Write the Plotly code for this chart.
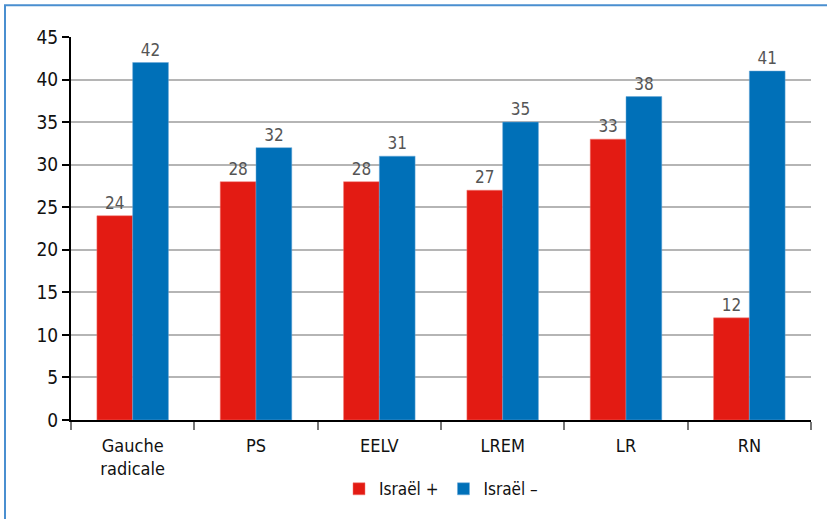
import plotly.graph_objects as go

categories = ["Gauche<br>radicale", "PS", "EELV", "LREM", "LR", "RN"]
israel_plus = [24, 28, 28, 27, 33, 12]
israel_minus = [42, 32, 31, 35, 38, 41]
series_names = ["Israël +", "Israël –"]
y_ticks = [0, 5, 10, 15, 20, 25, 30, 35, 40, 45]

FONT = "DejaVu Sans Condensed, Liberation Sans Narrow, Arial Narrow, Liberation Sans, sans-serif"

fig = go.Figure()
fig.add_trace(go.Bar(
    x=categories, y=israel_plus, name=series_names[0],
    marker=dict(color="#e31b13", line=dict(color="#f07a74", width=0.5)),
    text=israel_plus, textposition="outside", cliponaxis=False,
    textfont=dict(family=FONT, size=17, color="#555555"),
))
fig.add_trace(go.Bar(
    x=categories, y=israel_minus, name=series_names[1],
    marker=dict(color="#0070b8", line=dict(color="#6aa8d8", width=0.5)),
    text=israel_minus, textposition="outside", cliponaxis=False,
    textfont=dict(family=FONT, size=17, color="#555555"),
))

W, H = 827, 519
ml, mr, mt, mb = 71, 16, 37, 95
pw, ph = W - ml - mr, H - mt - mb

def px_x(p):
    return (p - ml) / pw

def px_y(p):
    return (H - mb - p) / ph

fig.update_layout(
    width=W, height=H,
    margin=dict(l=ml, r=mr, t=mt, b=mb),
    paper_bgcolor="white", plot_bgcolor="white",
    barmode="group", bargap=0.42, bargroupgap=0,
    font=dict(family=FONT, size=16, color="#111111"),
    showlegend=True,
    legend=dict(orientation="h", x=0.5, xanchor="center", y=px_y(494), yanchor="middle",
                font=dict(family=FONT, size=17, color="#111111"), traceorder="normal",
                itemwidth=30),
    xaxis=dict(
        showline=True, linecolor="black", linewidth=2,
        tickson="boundaries", ticks="outside", ticklen=8, tickcolor="#777777", tickwidth=2,
        tickfont=dict(family=FONT, size=18, color="#111111"),
        ticklabelstandoff=8,
        showgrid=False,
    ),
    yaxis=dict(
        range=[0, 45], tickvals=y_ticks,
        showline=True, linecolor="black", linewidth=2,
        ticks="outside", ticklen=7, tickcolor="black", tickwidth=2,
        tickfont=dict(family=FONT, size=19, color="#111111"),
        showgrid=True, gridcolor="#b5b5b5", gridwidth=2,
        zeroline=False,
    ),
    shapes=[dict(type="rect", xref="paper", yref="paper",
                 x0=px_x(5), x1=px_x(840), y0=px_y(540), y1=px_y(5),
                 line=dict(color="#4a8fd0", width=2), layer="below")],
)

fig.write_html("out.html", config={"displayModeBar": False},
               post_script="document.body.style.margin='0';document.body.style.overflow='hidden';")
